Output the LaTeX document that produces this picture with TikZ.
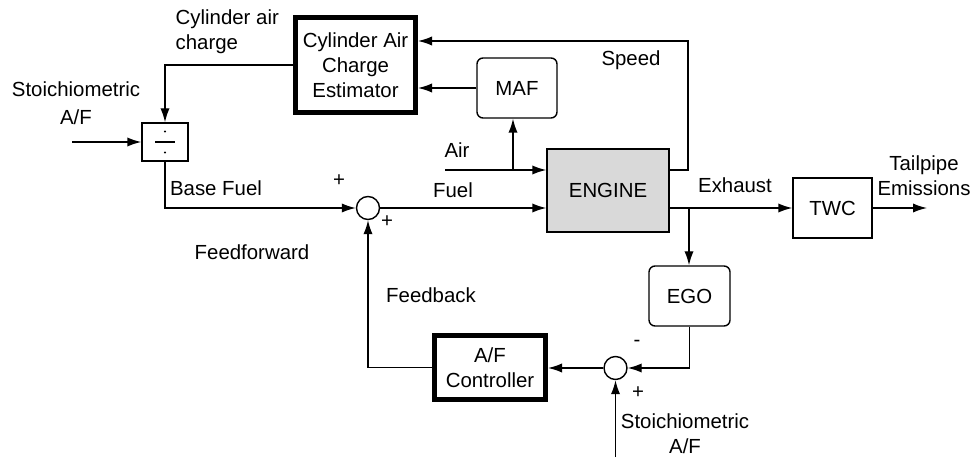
\documentclass[tikz,border=0pt]{standalone}
\usepackage{fontspec}
\setmainfont{Liberation Sans}
\usetikzlibrary{arrows.meta}

\begin{document}
\begin{tikzpicture}[x=0.5pt, y=-0.5pt, line width=0.7pt, >={Latex[length=7pt,width=4.6pt]},
    font=\fontsize{10.2}{12.5}\selectfont]
    \tikzstyle{block} = [draw, rectangle, align=center, inner sep=0pt];
    \tikzstyle{tblock} = [block, line width=2.5pt];
    \tikzstyle{rblock} = [block, rounded corners=3pt];
    \tikzstyle{sum} = [draw, circle, minimum size=11.5pt, inner sep=0pt];
    \tikzstyle{lbl} = [align=center, inner sep=0pt];
    \useasboundingbox (0,0) rectangle (972,459);
    % blocks
    \node [tblock, minimum width=60pt, minimum height=47.5pt] (est) at (355.5,65) {Cylinder Air\\Charge\\Estimator};
    \node [rblock, minimum width=40pt, minimum height=30pt] (maf) at (517,88) {MAF};
    \node [block, fill=black!15, minimum width=61pt, minimum height=41.5pt] (engine) at (608,190.5) {ENGINE};
    \node [block, minimum width=39.5pt, minimum height=30pt] (twc) at (832.5,208) {TWC};
    \node [rblock, minimum width=40.5pt, minimum height=30pt] (ego) at (689.5,296) {EGO};
    \node [tblock, minimum width=55.5pt, minimum height=32pt] (ctrl) at (490,367.5) {A/F\\Controller};
    \node [block, minimum width=23pt, minimum height=19pt] (div) at (165,142) {};
    \draw (div.center) ++(-10,0) -- ++(20,0);
    \fill (div.center) ++(0,-10.5) circle (0.6pt);
    \fill (div.center) ++(0,10.5) circle (0.6pt);
    \node [sum] (sum1) at (368,208) {};
    \node [sum] (sum2) at (615.5,368) {};
    % free ends
    \coordinate (in1) at (72,142);
    \coordinate (in2) at (615.5,457);
    \coordinate (air) at (445,170);
    \coordinate (airb) at (513,170);
    \coordinate (spd) at (688,41);
    \coordinate (exb) at (689,208);
    \coordinate (tp) at (927,208);
    % connectors
    \draw [->] (est.west) -| (div.north);
    \draw [->] (in1) -- (div.west);
    \draw [->] (div.south) |- (sum1.west);
    \draw [->] (sum1.east) -- (sum1.east -| engine.west);
    \draw [->] (air) -- (air -| engine.west);
    \draw [->] (airb) -- (airb |- maf.south);
    \draw [->] (maf.west) -- (maf.west -| est.east);
    \draw [->] (engine.east |- air) -| (spd) -- (spd -| est.east);
    \draw [->] (twc.west -| engine.east) -- (twc.west);
    \draw [->] (twc.east) -- (tp);
    \draw [->] (exb) -- (exb |- ego.north);
    \draw [->] (ego.south) |- (sum2.east);
    \draw [->] (sum2.west) -- (sum2.west -| ctrl.east);
    \draw [->] (ctrl.west) -| (sum1.south);
    \draw [->] (in2) -- (sum2.south);
    % labels
    \node [lbl, align=left, anchor=west] (cac) at (175,32) {Cylinder air\\charge};
    \node [lbl, font=\fontsize{10.2}{14}\selectfont] (saf1) at (76,103) {Stoichiometric\\A/F};
    \node [lbl] (bf) at (216,188) {Base Fuel};
    \node [lbl] (p1) at (339,181) {+};
    \node [lbl] (p2) at (387,222) {+};
    \node [lbl] (ff) at (252,252) {Feedforward};
    \node [lbl] (fb) at (431,295) {Feedback};
    \node [lbl] (airl) at (457,150) {Air};
    \node [lbl] (fuel) at (453,190) {Fuel};
    \node [lbl] (speed) at (631,60) {Speed};
    \node [lbl] (exh) at (735,185) {Exhaust};
    \node [lbl] (tpe) at (924,176) {Tailpipe\\Emissions};
    \node [lbl] (m2) at (637,343) {-};
    \node [lbl] (p3) at (638,393) {+};
    \node [lbl] (saf2) at (685,434) {Stoichiometric\\A/F};
\end{tikzpicture}
\end{document}
